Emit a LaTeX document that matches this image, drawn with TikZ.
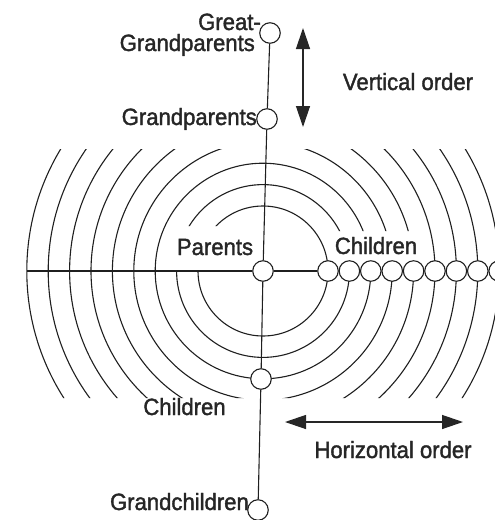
\documentclass[tikz,border=0pt]{standalone}
\usepackage{fontspec}
\setmainfont[FakeStretch=0.94,FakeBold=1.6]{Liberation Sans}
\usetikzlibrary{arrows.meta}
\begin{document}
\begin{tikzpicture}[x=1pt,y=-1pt,
  ink/.style={draw=black!88, line width=1.1pt},
  dot/.style={circle, draw=black!88, fill=white, minimum size=20.5pt, inner sep=0pt, line width=1.1pt},
  lbl/.style={inner sep=0pt, text=black!85, font=\fontsize{23.5}{21}\selectfont},
  dbl/.style={{Triangle[length=21pt,width=14pt]}-{Triangle[length=21pt,width=14pt]}, draw=black!85, line width=1.3pt}]
\useasboundingbox (0,0) rectangle (495,520);
\clip (0,0) rectangle (495,520);
\coordinate (P0) at (263,271);
% concentric arcs
\begin{scope}[even odd rule]
\clip (0,149) rectangle (495,398) (168,226) rectangle (258,271) (334,231) rectangle (425,271);
\foreach \i in {0,...,8} \draw[ink] (P0) circle[radius={65pt+21.4pt*\i}];
\end{scope}
% nodes
\node[dot] (P) at (263,271) {};
\node[dot] (GG) at (270,33) {};
\node[dot] (G) at (267,119) {};
\node[dot] (C) at (261,379) {};
\node[dot] (GC) at (258,510) {};
\foreach \i in {1,...,9} \node[dot] (k\i) at ({328+21.4*(\i-1)},271) {};
\coordinate (L) at (27,271);
% connectors
\draw[ink] (GG) -- (G);
\draw[ink] (G) -- (P);
\draw[ink] (P) -- (C);
\draw[ink] (C) -- (GC);
\draw[ink] (L) -- (P);
\draw[ink] (P) -- (k1);
% arrows
\coordinate (vt) at (303,28);
\coordinate (vb) at (303,127);
\draw[dbl] (vt) -- (vb);
\coordinate (hl) at (285,422);
\coordinate (hr) at (463,422);
\draw[dbl] (hl) -- (hr);
% labels
\node[lbl, anchor=base east] (tGGa) at (261,30) {Great-};
\node[lbl, anchor=base east] (tGGb) at (255,51) {Grandparents};
\node[lbl, anchor=base east] (tG) at (257,125) {Grandparents};
\node[lbl, anchor=base] (tP) at (215,255) {Parents};
\node[lbl, anchor=base] (tK) at (376,254) {Children};
\node[lbl, anchor=base] (tC) at (184.5,415) {Children};
\node[lbl, anchor=base east] (tGC) at (249,510) {Grandchildren};
\node[lbl, anchor=base] (tV) at (408,90) {Vertical order};
\node[lbl, anchor=base] (tH) at (393,458) {Horizontal order};
\end{tikzpicture}
\end{document}
